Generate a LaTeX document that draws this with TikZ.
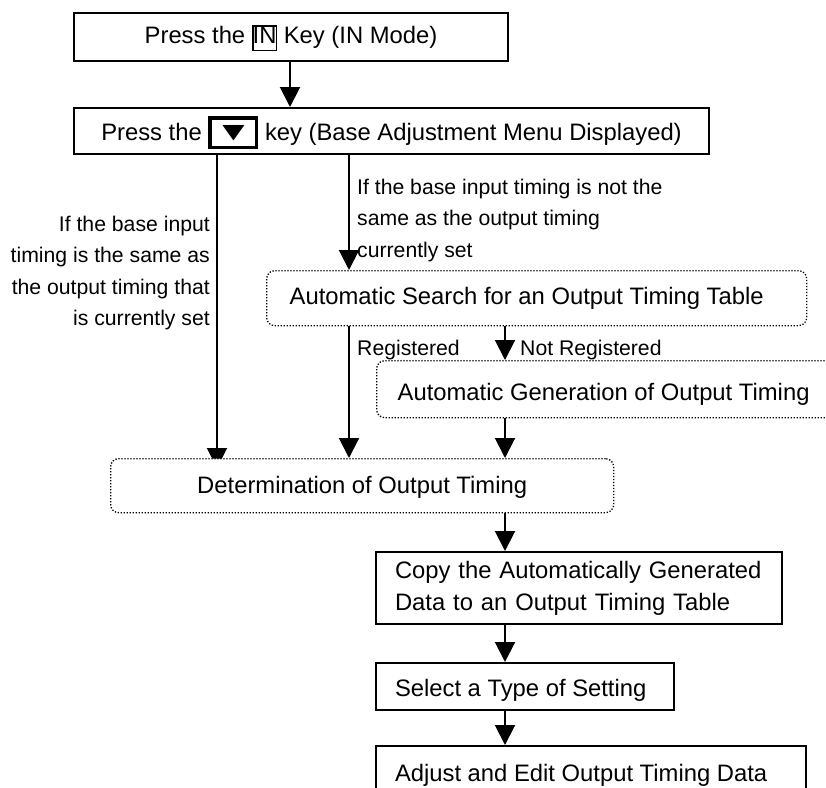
\documentclass[tikz,border=0pt]{standalone}
\usepackage{fontspec}
\setmainfont{Liberation Sans}
\newfontfamily\symbolfont{DejaVu Sans}
\usetikzlibrary{arrows.meta}
\pgfdeclarelayer{back}
\pgfsetlayers{back,main}

% framed key symbols used inside the step boxes
\newcommand{\inkey}{{\setlength{\fboxrule}{1.7pt}\setlength{\fboxsep}{0pt}%
  \fbox{\makebox[22pt]{\rule[-6.5pt]{0pt}{23pt}IN}}}}
\newcommand{\downkey}{{\setlength{\fboxrule}{3.5pt}\setlength{\fboxsep}{0pt}%
  \fbox{\makebox[43pt]{\rule[-5.5pt]{0pt}{26pt}\raisebox{2pt}{\scalebox{1}[0.7]{\symbolfont\fontsize{29pt}{29pt}\selectfont ▼}}}}}}
% a left-aligned line of fixed width
\newcommand{\boxline}[2]{\makebox[#1][l]{#2}}

\tikzset{
  solidbox/.style={draw, line width=2pt, fill=white, inner sep=0pt},
  dotbox/.style={draw, line width=1.3pt, dash pattern=on 1.3pt off 1.7pt,
    rounded corners=8pt, fill=white, inner sep=0pt},
  oneline/.style={text height=17pt, text depth=5pt},
  arr/.style={-{Triangle[length=20pt,width=20pt]}, line width=2pt},
  lbl/.style={font=\fontsize{21.2pt}{31.5pt}\selectfont, inner sep=0pt},
}

\begin{document}
\begin{tikzpicture}[x=1pt, y=-1pt, font=\fontsize{23.8pt}{32pt}\selectfont]
\useasboundingbox (0,0) rectangle (826,787);
\clip (0,0) rectangle (826,787);
\begin{pgfonlayer}{back}
  \fill[white] (0,0) rectangle (826,787);
\end{pgfonlayer}

% column positions of the vertical connectors
\coordinate (xa) at (290,0);
\coordinate (xl) at (217,0);
\coordinate (xm) at (349,0);
\coordinate (xr) at (505,0);

% steps
\node[solidbox, oneline, anchor=north west, minimum width=434pt, minimum height=48pt]
  (mode) at (73,12) {Press the \inkey{} Key (IN Mode)};
\node[solidbox, oneline, anchor=north west, minimum width=635pt, minimum height=46pt,
  text height=20pt, text depth=2pt]
  (menu) at (73,107) {Press the \downkey{} key (Base Adjustment Menu Displayed)};
\node[dotbox, oneline, anchor=north west, inner xsep=23pt, minimum height=55pt,
  text height=17.5pt, text depth=4.5pt]
  (search) at (266,270) {\boxline{494pt}{Automatic Search for an Output Timing Table}};
\node[dotbox, oneline, anchor=north west, inner xsep=21pt, minimum height=57pt,
  text height=24pt, text depth=1pt]
  (autogen) at (376,360) {\boxline{438pt}{Automatic Generation of Output Timing}};
\node[dotbox, oneline, anchor=north west, minimum width=503pt, minimum height=54pt,
  text height=19pt, text depth=3pt]
  (det) at (110,458) {Determination of Output Timing};
\node[solidbox, anchor=north west, inner xsep=19pt, minimum height=72pt,
  text width=368pt, align=left]
  (copy) at (375,551) {Copy the Automatically Generated\\Data to an Output Timing Table};
\node[solidbox, oneline, anchor=north west, inner xsep=19pt, minimum height=47pt,
  text height=21pt, text depth=2pt]
  (select) at (375,662) {\boxline{260pt}{Select a Type of Setting}};
\node[solidbox, oneline, anchor=north west, inner xsep=19pt, minimum height=58pt]
  (adjust) at (375,745) {\boxline{392pt}{Adjust and Edit Output Timing Data}};

% branch conditions
\node[lbl, anchor=north east, align=right] (samelbl) at (210,215.5)
  {If the base input\\timing is the same as\\the output timing that\\is currently set};
\node[lbl, anchor=north west, align=left] (difflbl) at (357,178.5)
  {If the base input timing is not the\\same as the output timing\\currently set};
\node[lbl, anchor=base west] (reglbl) at (357,355) {Registered};
\node[lbl, anchor=base west] (nreglbl) at (520,355) {Not Registered};

% connectors, kept beneath the boxes
\begin{pgfonlayer}{back}
  \draw[arr] (mode.south -| xa) -- (menu.north -| xa);
  \draw[arr, shorten >=-10pt] (menu.south -| xl) -- (det.north -| xl);
  \draw[arr] (menu.south -| xm) -- (search.north -| xm);
  \draw[arr] (search.south -| xm) -- (det.north -| xm);
  \draw[arr] (search.south -| xr) -- (autogen.north -| xr);
  \draw[arr] (autogen.south -| xr) -- (det.north -| xr);
  \draw[arr] (det.south -| xr) -- (copy.north -| xr);
  \draw[arr] (copy.south -| xr) -- (select.north -| xr);
  \draw[arr] (select.south -| xr) -- (adjust.north -| xr);
\end{pgfonlayer}
\end{tikzpicture}
\end{document}
